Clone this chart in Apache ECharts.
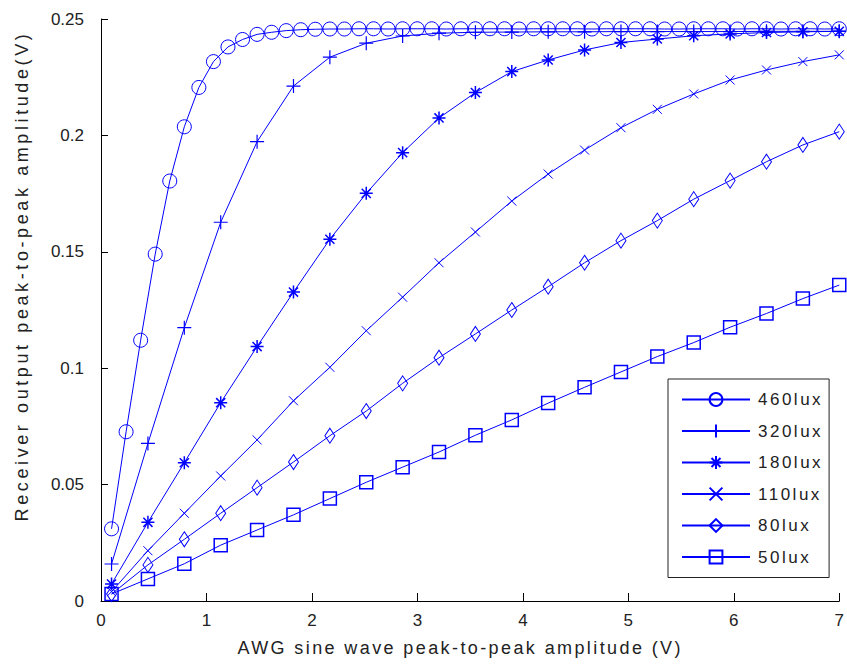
<!DOCTYPE html>
<html>
<head>
<meta charset="utf-8">
<script src="https://cdn.jsdelivr.net/npm/echarts@6/dist/echarts.min.js"></script>
<style>
  html, body { margin: 0; padding: 0; background: #fff; }
  #chart { width: 847px; height: 665px; }
</style>
</head>
<body>
<div id="chart"></div>
<script>
// AWG drive amplitude (V) at which each illuminance level was measured
const xCoarse = [0.1, 0.445, 0.79, 1.135, 1.48, 1.825, 2.17, 2.515, 2.86, 3.205, 3.55,
  3.895, 4.24, 4.585, 4.93, 5.275, 5.62, 5.965, 6.31, 6.655, 7.0];
const xFine = [0.1, 0.238, 0.376, 0.514, 0.652, 0.79, 0.928, 1.066, 1.204, 1.342, 1.48,
  1.618, 1.756, 1.894, 2.032, 2.17, 2.308, 2.446, 2.584, 2.722, 2.86, 2.998, 3.136, 3.274,
  3.412, 3.55, 3.688, 3.826, 3.964, 4.102, 4.24, 4.378, 4.516, 4.654, 4.792, 4.93, 5.068,
  5.206, 5.344, 5.482, 5.62, 5.758, 5.896, 6.034, 6.172, 6.31, 6.448, 6.586, 6.724, 6.862, 7.0];

// Receiver output peak-to-peak amplitude (V)
const lux460 = [0.0310, 0.0727, 0.1120, 0.1490, 0.1804, 0.2037, 0.2206, 0.2317, 0.2380,
  0.2412, 0.2434, 0.2443, 0.2450, 0.2454, 0.2456, 0.2457, 0.2457, 0.2458, 0.2458, 0.2457,
  0.2458, 0.2458, 0.2458, 0.2457, 0.2458, 0.2458, 0.2458, 0.2458, 0.2457, 0.2458, 0.2458,
  0.2458, 0.2458, 0.2457, 0.2458, 0.2458, 0.2458, 0.2458, 0.2457, 0.2457, 0.2458, 0.2458,
  0.2458, 0.2457, 0.2458, 0.2458, 0.2457, 0.2458, 0.2458, 0.2457, 0.2458];
const lux320 = [0.0159, 0.0677, 0.1174, 0.1627, 0.1973, 0.2212, 0.2336, 0.2396, 0.2427,
  0.2439, 0.2443, 0.2444, 0.2445, 0.2445, 0.2446, 0.2446, 0.2446, 0.2446, 0.2447, 0.2447, 0.2447];
const lux180 = [0.0073, 0.0338, 0.0594, 0.0852, 0.1093, 0.1327, 0.1554, 0.1751, 0.1926,
  0.2075, 0.2184, 0.2274, 0.2324, 0.2367, 0.2399, 0.2414, 0.2428, 0.2436, 0.2442, 0.2445, 0.2447];
const lux110 = [0.0040, 0.0216, 0.0377, 0.0537, 0.0692, 0.0860, 0.1004, 0.1161, 0.1305,
  0.1453, 0.1585, 0.1718, 0.1834, 0.1937, 0.2033, 0.2112, 0.2178, 0.2238, 0.2281, 0.2317, 0.2346];
const lux80 = [0.0030, 0.0155, 0.0265, 0.0377, 0.0487, 0.0597, 0.0710, 0.0816, 0.0935,
  0.1045, 0.1147, 0.1250, 0.1350, 0.1453, 0.1548, 0.1634, 0.1726, 0.1806, 0.1887, 0.1959, 0.2016];
const lux50 = [0.0030, 0.0095, 0.0160, 0.0240, 0.0305, 0.0370, 0.0440, 0.0510, 0.0575,
  0.0640, 0.0712, 0.0778, 0.0850, 0.0918, 0.0984, 0.1050, 0.1110, 0.1176, 0.1235, 0.1299, 0.1357];

const seriesNames = ['460lux', '320lux', '180lux', '110lux', '80lux', '50lux'];
const xTitle = 'AWG sine wave peak-to-peak amplitude (V)';
const yTitle = 'Receiver output peak-to-peak amplitude(V)';

const BLUE = '#0000ff';
const FONT = 'Liberation Sans, Arial, sans-serif';

// stroke-only marker shapes
const PLUS = 'path://M0,5L10,5M5,0L5,10';
const STAR = 'path://M0,5L10,5M5,0L5,10M1.5,1.5L8.5,8.5M1.5,8.5L8.5,1.5';
const CROSS = 'path://M0,0L10,10M0,10L10,0';

function pairs(xs, ys) {
  return ys.map((v, i) => [xs[i], v]);
}

function makeSeries(name, xs, ys, symbol, size, bw) {
  return {
    name: name,
    type: 'line',
    data: pairs(xs, ys),
    symbol: symbol,
    symbolSize: size,
    showAllSymbol: true,
    clip: false,
    lineStyle: { color: BLUE, width: 1 },
    itemStyle: { color: 'rgba(0,0,0,0)', borderColor: BLUE, borderWidth: bw },
    emphasis: { disabled: true },
    z: 3
  };
}

const chart = echarts.init(document.getElementById('chart'), null, { renderer: 'svg' });

chart.setOption({
  animation: false,
  backgroundColor: '#fff',
  textStyle: { fontFamily: FONT },
  grid: { left: 101, right: 6, top: 19, bottom: 64, containLabel: false },
  xAxis: {
    type: 'value',
    min: 0, max: 7, interval: 1,
    name: xTitle,
    nameLocation: 'middle',
    nameGap: 38,
    nameTextStyle: { color: '#222', fontSize: 18, fontFamily: FONT, padding: [0, 20, 0, 0] },
    axisLine: { show: true, lineStyle: { color: '#000', width: 1 } },
    axisTick: { show: true, inside: true, length: 8, lineStyle: { color: '#000' } },
    axisLabel: { color: '#222', fontSize: 17, margin: 11, fontFamily: FONT },
    splitLine: { show: false }
  },
  yAxis: {
    type: 'value',
    min: 0, max: 0.25, interval: 0.05,
    axisLine: { show: true, lineStyle: { color: '#000', width: 1 } },
    axisTick: { show: true, inside: true, length: 7, lineStyle: { color: '#000' } },
    axisLabel: { color: '#222', fontSize: 17, margin: 17, fontFamily: FONT },
    splitLine: { show: false }
  },
  graphic: [{
    type: 'text',
    id: 'yTitle',
    x: 22,
    y: 276,
    rotation: Math.PI / 2,
    style: {
      text: yTitle,
      fill: '#222',
      font: '18px ' + FONT,
      align: 'center',
      verticalAlign: 'middle'
    }
  }],
  legend: {
    data: seriesNames,
    orient: 'vertical',
    left: 668,
    top: 379,
    padding: [12, 21, 12, 13],
    itemWidth: 68,
    itemHeight: 16,
    itemGap: 14.5,
    backgroundColor: '#fff',
    borderColor: '#222',
    borderWidth: 1,
    borderRadius: 0,
    textStyle: { color: '#222', fontSize: 17, fontFamily: FONT, padding: [0, 0, 0, 3] },
    selectedMode: false,
    z: 10
  },
  series: [
    makeSeries('460lux', xFine, lux460, 'circle', 14, 1),
    makeSeries('320lux', xCoarse, lux320, PLUS, 14, 1.2),
    makeSeries('180lux', xCoarse, lux180, STAR, 13, 1.5),
    makeSeries('110lux', xCoarse, lux110, CROSS, 9, 1),
    makeSeries('80lux', xCoarse, lux80, 'diamond', [10, 15], 1),
    makeSeries('50lux', xCoarse, lux50, 'rect', 13, 1.5)
  ]
});

// Looser tracking for the axis titles and legend entries
function spaceTitles() {
  const root = document.querySelector('#chart svg');
  if (!root) return;
  root.querySelectorAll('text').forEach(function (t) {
    const s = t.textContent;
    if (s === yTitle) t.style.letterSpacing = '3.6px';
    else if (s === xTitle) t.style.letterSpacing = '2.4px';
    else if (seriesNames.indexOf(s) >= 0) t.style.letterSpacing = '2.5px';
  });
}
spaceTitles();
chart.on('finished', spaceTitles);
</script>
</body>
</html>
